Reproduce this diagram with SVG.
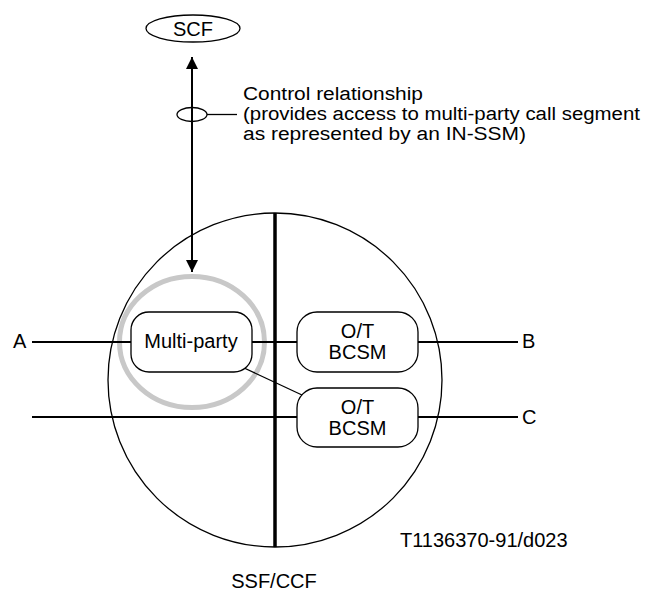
<svg xmlns="http://www.w3.org/2000/svg" width="650" height="592" viewBox="0 0 650 592">
  <style>
    text { font-family: "Liberation Sans", Arial, sans-serif; font-size: 20px; fill: #000; }
    .mid { text-anchor: middle; }
    .note { font-size: 18px; }
    .node { fill: #fff; stroke: #000; stroke-width: 1.3; }
    .wire { stroke: #000; stroke-width: 2; fill: none; }
    .thin { stroke: #000; stroke-width: 1.3; fill: none; }
  </style>
  <defs>
    <marker id="arrow" viewBox="0 0 12 12" refX="12" refY="6" markerWidth="12" markerHeight="12" markerUnits="userSpaceOnUse" orient="auto-start-reverse">
      <path d="M0,0 L12,6 L0,12 Z" fill="#000"/>
    </marker>
  </defs>
  <rect width="650" height="592" fill="#fff"/>

  <!-- SSF/CCF boundary -->
  <g id="ssf-ccf">
    <circle cx="275" cy="380" r="167" class="thin"/>
    <line x1="275" y1="213" x2="275" y2="547" stroke="#000" stroke-width="3.5"/>
    <text x="274" y="588" class="mid">SSF/CCF</text>
  </g>

  <!-- IN-SSM highlight ring -->
  <g id="in-ssm">
    <ellipse cx="192" cy="342" rx="72.5" ry="65.5" fill="none" stroke="#c8c8c8" stroke-width="5"/>
  </g>

  <!-- connectors -->
  <g id="connectors">
    <line x1="192" y1="57" x2="192" y2="272" class="wire" marker-start="url(#arrow)" marker-end="url(#arrow)"/>
    <ellipse cx="192" cy="114.5" rx="15" ry="7" class="thin"/>
    <line x1="207" y1="114.5" x2="237" y2="114.5" class="thin"/>
    <line x1="32" y1="342" x2="131" y2="342" class="wire"/>
    <line x1="252" y1="342" x2="297" y2="342" class="wire"/>
    <line x1="418" y1="342" x2="518" y2="342" class="wire"/>
    <line x1="32" y1="417" x2="297" y2="417" class="wire"/>
    <line x1="418" y1="417" x2="518" y2="417" class="wire"/>
    <line x1="242" y1="367" x2="302" y2="395" class="thin"/>
  </g>

  <g id="scf">
    <ellipse cx="193" cy="28.5" rx="47" ry="13.5" class="node"/>
    <text x="193" y="36" class="mid">SCF</text>
  </g>

  <g id="control-label">
    <text x="243" y="100" class="note" textLength="180" lengthAdjust="spacingAndGlyphs">Control relationship</text>
    <text x="243" y="120" class="note" textLength="397" lengthAdjust="spacingAndGlyphs">(provides access to multi-party call segment</text>
    <text x="243" y="140" class="note" textLength="283" lengthAdjust="spacingAndGlyphs">as represented by an IN-SSM)</text>
  </g>

  <g id="multi-party">
    <rect x="131" y="312" width="121" height="60" rx="18" class="node"/>
    <text x="191" y="348" class="mid">Multi-party</text>
  </g>

  <g id="bcsm-b">
    <rect x="297" y="312" width="121" height="60" rx="20" class="node"/>
    <text x="357.5" y="338" class="mid">O/T</text>
    <text x="357.5" y="359" class="mid">BCSM</text>
  </g>

  <g id="bcsm-c">
    <rect x="297" y="388" width="121" height="59" rx="20" class="node"/>
    <text x="357.5" y="414" class="mid">O/T</text>
    <text x="357.5" y="435" class="mid">BCSM</text>
  </g>

  <g id="party-labels">
    <text x="13" y="348">A</text>
    <text x="522" y="348">B</text>
    <text x="522" y="424">C</text>
  </g>

  <text x="400" y="547" font-size="16">T1136370-91/d023</text>
</svg>
